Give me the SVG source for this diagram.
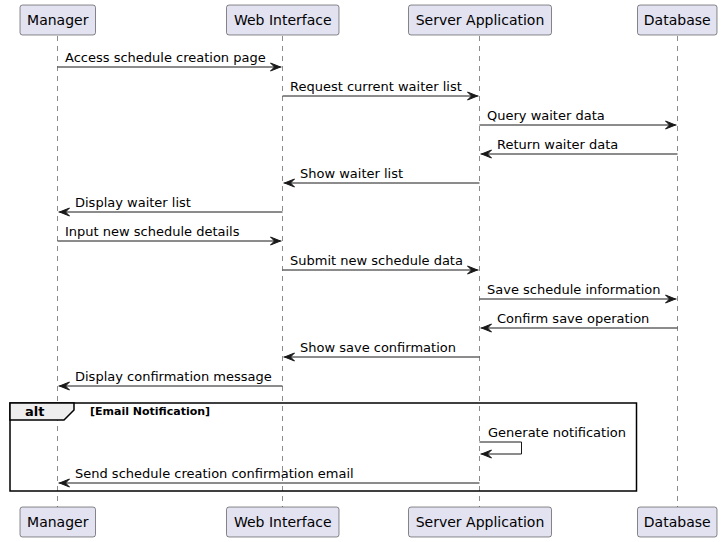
<svg xmlns="http://www.w3.org/2000/svg" width="722" height="542" viewBox="0 0 722 542">
<style>
.p{fill:#E2E2F0;stroke:#181818;stroke-width:0.5}
.pt{font-family:"DejaVu Sans",sans-serif;font-size:14px;fill:#000;text-anchor:middle}
.ll{stroke:#181818;stroke-width:0.5;stroke-dasharray:5,5}
.m{stroke:#181818;stroke-width:1;fill:none}
.ah{fill:#181818;stroke:#181818;stroke-width:1}
.mt{font-family:"DejaVu Sans",sans-serif;font-size:13px;fill:#000}
</style>
<rect width="722" height="542" fill="#FFFFFF"/>
<g id="lifelines">
<line class="ll" x1="57.5" y1="36" x2="57.5" y2="507"/>
<line class="ll" x1="282.5" y1="36" x2="282.5" y2="507"/>
<line class="ll" x1="479.5" y1="36" x2="479.5" y2="507"/>
<line class="ll" x1="677.5" y1="36" x2="677.5" y2="507"/>
</g>
<g id="alt">
<rect x="10" y="403" width="626.5" height="88" fill="none" stroke="#000" stroke-width="1.5"/>
<path d="M10,403 L74,403 L74,410 L64,420 L10,420 Z" fill="#EEEEEE" stroke="#000" stroke-width="1.5"/>
<text x="25" y="415.5" style="font-family:'DejaVu Sans',sans-serif;font-size:13px;font-weight:bold">alt</text>
<text x="90" y="415" style="font-family:'DejaVu Sans',sans-serif;font-size:11px;font-weight:bold">[Email Notification]</text>
</g>
<g id="Manager">
<rect class="p" x="20" y="5" width="75.5" height="30" rx="2.5"/>
<text class="pt" x="57.75" y="25">Manager</text>
<rect class="p" x="20" y="507" width="75.5" height="30" rx="2.5"/>
<text class="pt" x="57.75" y="527">Manager</text>
</g>
<g id="WebInterface">
<rect class="p" x="226.5" y="5" width="112.5" height="30" rx="2.5"/>
<text class="pt" x="282.75" y="25">Web Interface</text>
<rect class="p" x="226.5" y="507" width="112.5" height="30" rx="2.5"/>
<text class="pt" x="282.75" y="527">Web Interface</text>
</g>
<g id="ServerApplication">
<rect class="p" x="408.5" y="5" width="143" height="30" rx="2.5"/>
<text class="pt" x="480" y="25">Server Application</text>
<rect class="p" x="408.5" y="507" width="143" height="30" rx="2.5"/>
<text class="pt" x="480" y="527">Server Application</text>
</g>
<g id="Database">
<rect class="p" x="637.5" y="5" width="79.5" height="30" rx="2.5"/>
<text class="pt" x="677.25" y="25">Database</text>
<rect class="p" x="637.5" y="507" width="79.5" height="30" rx="2.5"/>
<text class="pt" x="677.25" y="527">Database</text>
</g>
<g id="connectors">
<line class="m" x1="57.5" y1="67" x2="281.5" y2="67"/>
<polygon class="ah" points="270.5,63 280.5,67 270.5,71 274.5,67"/>
<text class="mt" x="65" y="62">Access schedule creation page</text>

<line class="m" x1="282.5" y1="96" x2="478.5" y2="96"/>
<polygon class="ah" points="467.5,92 477.5,96 467.5,100 471.5,96"/>
<text class="mt" x="290" y="91">Request current waiter list</text>

<line class="m" x1="479.5" y1="125" x2="676.5" y2="125"/>
<polygon class="ah" points="665.5,121 675.5,125 665.5,129 669.5,125"/>
<text class="mt" x="487" y="120">Query waiter data</text>

<line class="m" x1="480.5" y1="154" x2="677.5" y2="154"/>
<polygon class="ah" points="491.5,150 481.5,154 491.5,158 487.5,154"/>
<text class="mt" x="497" y="149">Return waiter data</text>

<line class="m" x1="283.5" y1="183" x2="479.5" y2="183"/>
<polygon class="ah" points="294.5,179 284.5,183 294.5,187 290.5,183"/>
<text class="mt" x="300" y="178">Show waiter list</text>

<line class="m" x1="58.5" y1="212" x2="282.5" y2="212"/>
<polygon class="ah" points="69.5,208 59.5,212 69.5,216 65.5,212"/>
<text class="mt" x="75" y="207">Display waiter list</text>

<line class="m" x1="57.5" y1="241" x2="281.5" y2="241"/>
<polygon class="ah" points="270.5,237 280.5,241 270.5,245 274.5,241"/>
<text class="mt" x="65" y="236">Input new schedule details</text>

<line class="m" x1="282.5" y1="270" x2="478.5" y2="270"/>
<polygon class="ah" points="467.5,266 477.5,270 467.5,274 471.5,270"/>
<text class="mt" x="290" y="265">Submit new schedule data</text>

<line class="m" x1="479.5" y1="299" x2="676.5" y2="299"/>
<polygon class="ah" points="665.5,295 675.5,299 665.5,303 669.5,299"/>
<text class="mt" x="487" y="294">Save schedule information</text>

<line class="m" x1="480.5" y1="328" x2="677.5" y2="328"/>
<polygon class="ah" points="491.5,324 481.5,328 491.5,332 487.5,328"/>
<text class="mt" x="497" y="323">Confirm save operation</text>

<line class="m" x1="283.5" y1="357" x2="479.5" y2="357"/>
<polygon class="ah" points="294.5,353 284.5,357 294.5,361 290.5,357"/>
<text class="mt" x="300" y="352">Show save confirmation</text>

<line class="m" x1="58.5" y1="386" x2="282.5" y2="386"/>
<polygon class="ah" points="69.5,382 59.5,386 69.5,390 65.5,386"/>
<text class="mt" x="75" y="381">Display confirmation message</text>

<polyline class="m" points="479.5,442 521.5,442 521.5,454 480.5,454"/>
<polygon class="ah" points="491.5,450 481.5,454 491.5,458 487.5,454"/>
<text class="mt" x="488" y="437">Generate notification</text>

<line class="m" x1="58.5" y1="483" x2="479.5" y2="483"/>
<polygon class="ah" points="69.5,479 59.5,483 69.5,487 65.5,483"/>
<text class="mt" x="75" y="478">Send schedule creation confirmation email</text>
</g>
</svg>
